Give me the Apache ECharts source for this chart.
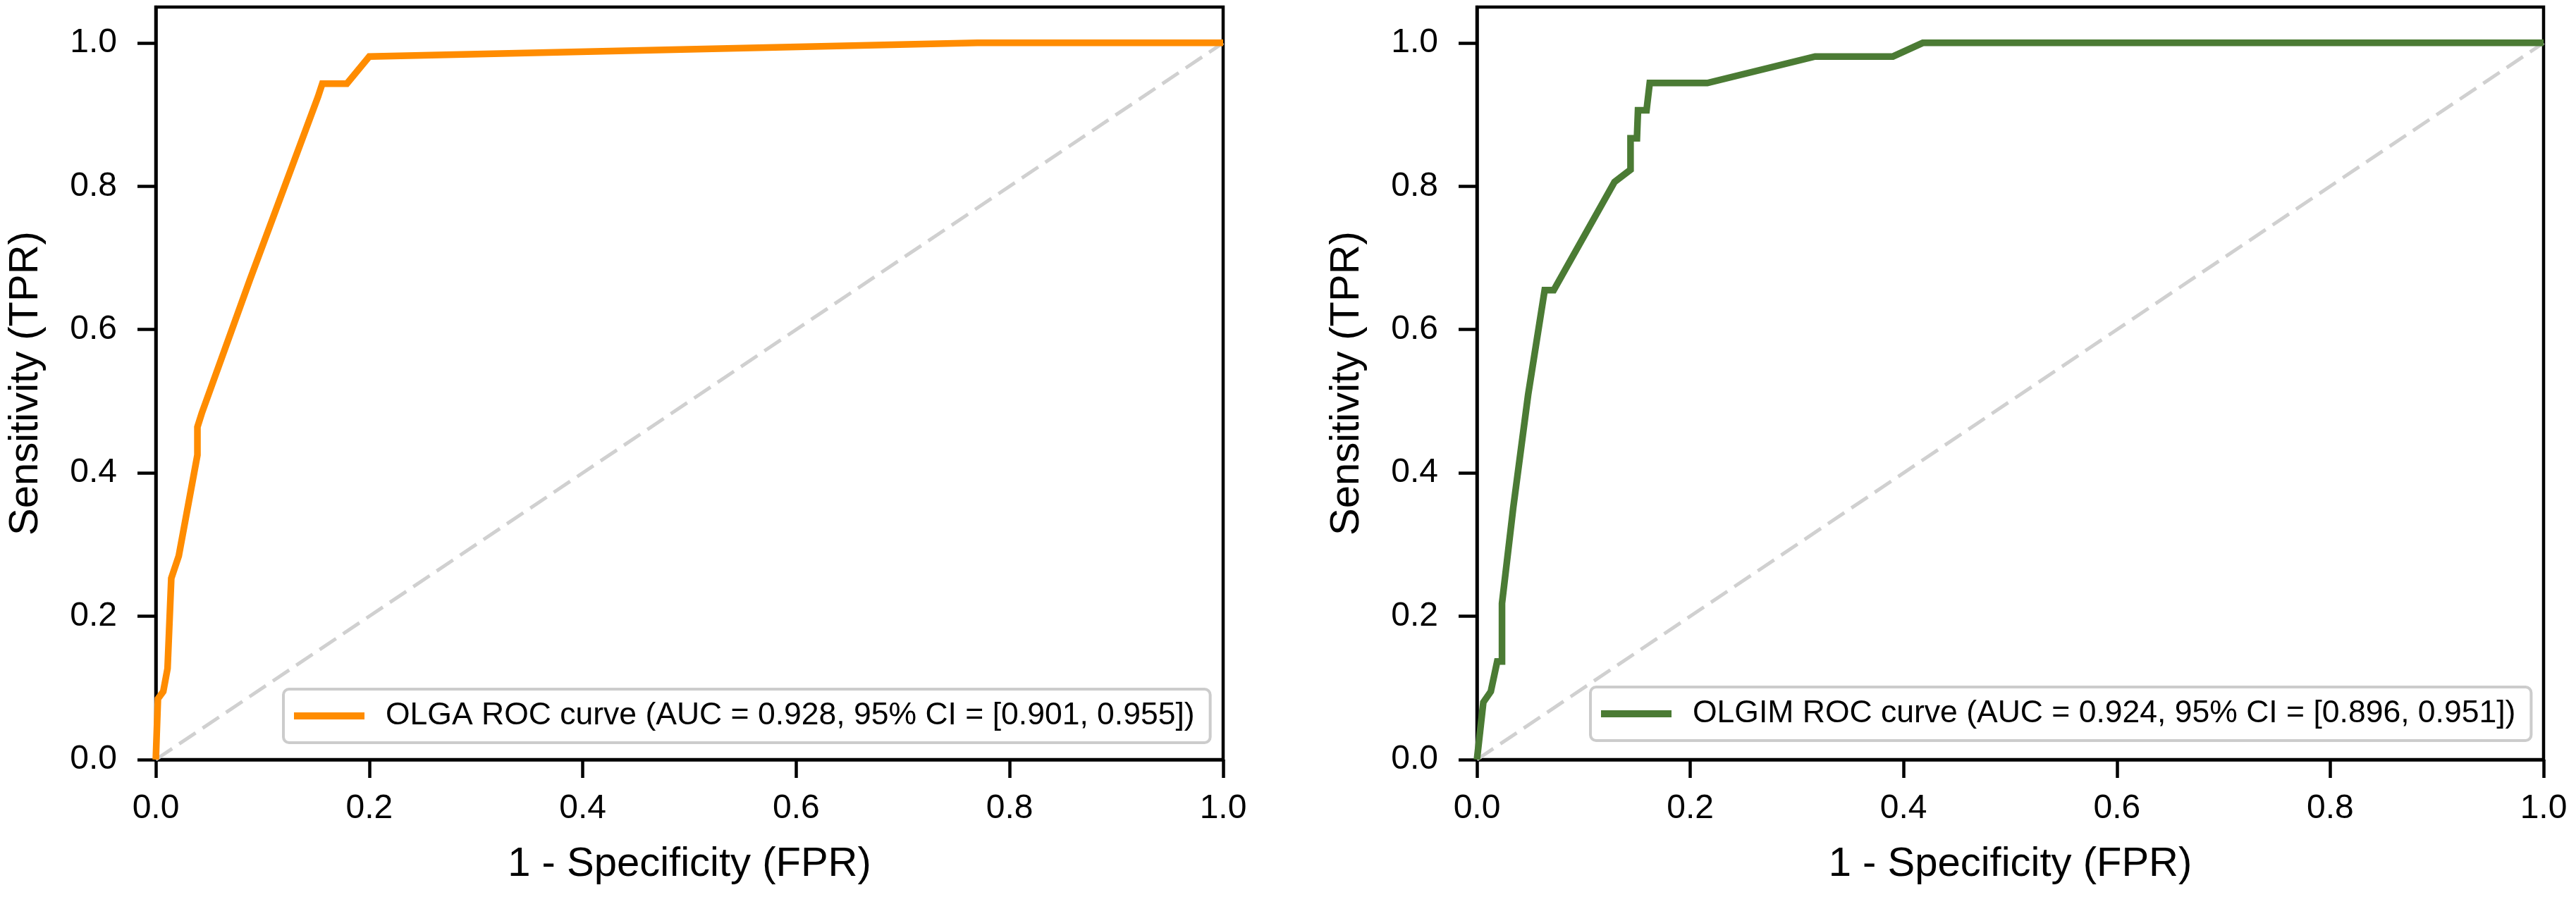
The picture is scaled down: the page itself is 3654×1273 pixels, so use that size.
<!DOCTYPE html>
<html>
<head>
<meta charset="utf-8">
<title>ROC curves</title>
<script src="https://cdn.jsdelivr.net/npm/echarts@6.0.0/dist/echarts.min.js"></script>
<style>
  html, body { margin: 0; padding: 0; background: #fff; }
  #main { width: 3654px; height: 1273px; }
</style>
</head>
<body>
<div id="main"></div>
<script>
// OLGA ROC curve points
const olgaFpr = [0, 0.002, 0.007, 0.011, 0.0145, 0.0215, 0.039, 0.039, 0.043, 0.088, 0.152, 0.156, 0.179, 0.2, 0.77, 1.0];
const olgaTpr = [0, 0.085, 0.095, 0.127, 0.253, 0.284, 0.425, 0.464, 0.483, 0.669, 0.925, 0.943, 0.943, 0.981, 1.0, 1.0];

// OLGIM ROC curve points (right panel)
const olgimFpr = [0, 0.006, 0.013, 0.019, 0.0235, 0.0235, 0.034, 0.048, 0.0635, 0.072, 0.129, 0.144, 0.144, 0.15, 0.151, 0.159, 0.162, 0.216, 0.317, 0.39, 0.418, 1.0];
const olgimTpr = [0, 0.08, 0.095, 0.137, 0.137, 0.218, 0.351, 0.509, 0.655, 0.655, 0.806, 0.823, 0.867, 0.867, 0.906, 0.906, 0.944, 0.944, 0.981, 0.981, 1.0, 1.0];

// chance line
const chanceX = [0, 1];
const chanceY = [0, 1];

const tickValues = [0, 0.2, 0.4, 0.6, 0.8, 1.0];

const olgaName = 'OLGA ROC curve (AUC = 0.928, 95% CI = [0.901, 0.955])';
const olgimName = 'OLGIM ROC curve (AUC = 0.924, 95% CI = [0.896, 0.951])';

const FONT = '"Liberation Sans", Arial, Helvetica, sans-serif';

const zip = (xs, ys) => xs.map((x, i) => [x, ys[i]]);

function xAxisFor(grid) {
    return {
        type: 'value', gridIndex: grid, min: 0, max: 1,
        name: '1 - Specificity (FPR)', nameLocation: 'middle', nameGap: 120,
        nameTextStyle: {fontFamily: FONT, fontSize: 58, color: '#000'},
        axisLine: {show: true, onZero: false, lineStyle: {color: '#000', width: 4.5}},
        axisTick: {show: true, length: 26, customValues: tickValues, lineStyle: {color: '#000', width: 4.5}},
        axisLabel: {customValues: tickValues, margin: 46, fontFamily: FONT, fontSize: 48, color: '#000',
            formatter: v => v.toFixed(1)},
        splitLine: {show: false}
    };
}

function yAxisFor(grid) {
    return {
        type: 'value', gridIndex: grid, min: 0, max: 1.05,
        name: 'Sensitivity (TPR)', nameLocation: 'middle', nameGap: 155,
        nameTextStyle: {fontFamily: FONT, fontSize: 58, color: '#000'},
        axisLine: {show: true, onZero: false, lineStyle: {color: '#000', width: 4.5}},
        axisTick: {show: true, length: 26, customValues: tickValues, lineStyle: {color: '#000', width: 4.5}},
        axisLabel: {customValues: tickValues, margin: 55, fontFamily: FONT, fontSize: 48, color: '#000',
            formatter: v => v.toFixed(1)},
        splitLine: {show: false}
    };
}

function legendFor(name, left, top) {
    return {
        left: left, top: top, orient: 'horizontal',
        data: [{name: name, icon: 'rect'}],
        itemWidth: 100, itemHeight: 10,
        backgroundColor: '#fff', borderColor: '#cccccc', borderWidth: 4, borderRadius: 8,
        padding: [15, 22, 15, 15],
        textStyle: {fontFamily: FONT, fontSize: 44.5, color: '#000', lineHeight: 46, padding: [0, 0, 0, 25]},
        selectedMode: false
    };
}

function chance(grid) {
    return {
        type: 'line', xAxisIndex: grid, yAxisIndex: grid, z: 1,
        data: zip(chanceX, chanceY), showSymbol: false, silent: true,
        lineStyle: {color: '#d0d0d0', width: 5, type: [28, 12]}
    };
}

function roc(name, grid, xs, ys, color) {
    return {
        name: name, type: 'line', xAxisIndex: grid, yAxisIndex: grid, z: 3,
        data: zip(xs, ys), showSymbol: false, symbol: 'none',
        itemStyle: {color: color},
        lineStyle: {color: color, width: 9.5, join: 'miter'}
    };
}

const myChart = echarts.init(document.getElementById('main'), null, {renderer: 'canvas'});

myChart.setOption({
    animation: false,
    backgroundColor: '#fff',
    grid: [
        {left: 221, top: 10, width: 1514, height: 1068, show: true, borderColor: '#000', borderWidth: 4.5,
            backgroundColor: 'transparent', containLabel: false, outerBoundsMode: 'none'},
        {left: 2095, top: 10, width: 1513, height: 1068, show: true, borderColor: '#000', borderWidth: 4.5,
            backgroundColor: 'transparent', containLabel: false, outerBoundsMode: 'none'}
    ],
    xAxis: [xAxisFor(0), xAxisFor(1)],
    yAxis: [yAxisFor(0), yAxisFor(1)],
    legend: [
        legendFor(olgaName, 402, 978),
        legendFor(olgimName, 2256, 975)
    ],
    series: [
        chance(0),
        roc(olgaName, 0, olgaFpr, olgaTpr, '#ff8c00'),
        chance(1),
        roc(olgimName, 1, olgimFpr, olgimTpr, '#4b7b34')
    ]
});
</script>
</body>
</html>
